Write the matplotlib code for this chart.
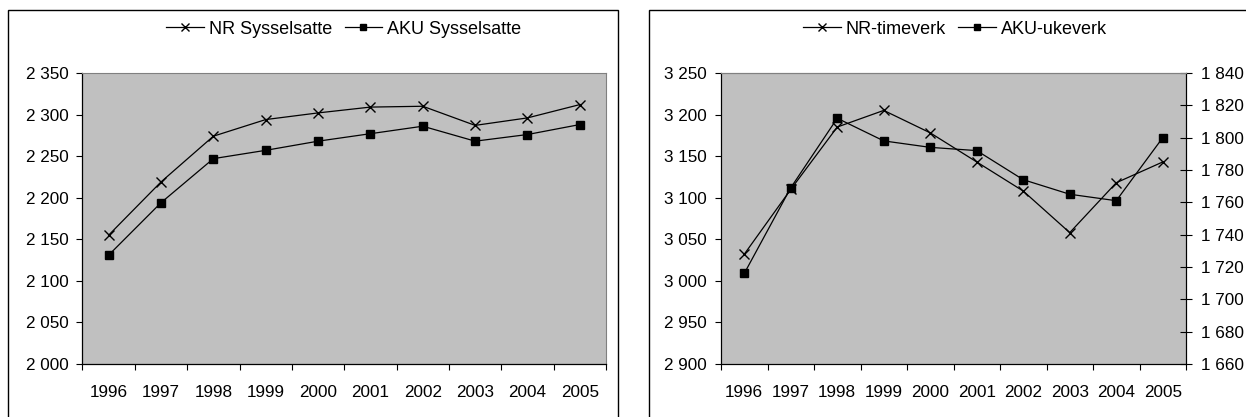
import matplotlib
matplotlib.use("Agg")
import matplotlib.pyplot as plt
from matplotlib.patches import Rectangle
from matplotlib.ticker import FuncFormatter, FixedLocator

plt.rcParams['font.family'] = ['Liberation Sans', 'DejaVu Sans']

years = ['1996', '1997', '1998', '1999', '2000', '2001', '2002', '2003', '2004', '2005']
nr_sysselsatte = [2155, 2219, 2274, 2294, 2302, 2309, 2310, 2287, 2296, 2312]
aku_sysselsatte = [2131, 2194, 2247, 2257, 2268, 2277, 2286, 2268, 2276, 2288]
nr_timeverk = [3032, 3110, 3185, 3205, 3178, 3143, 3108, 3058, 3118, 3143]
aku_ukeverk = [1716, 1769, 1812, 1798, 1794, 1792, 1774, 1765, 1761, 1800]

left_ticks = [2000, 2050, 2100, 2150, 2200, 2250, 2300, 2350]
right_left_ticks = [2900, 2950, 3000, 3050, 3100, 3150, 3200, 3250]
right_right_ticks = [1660, 1680, 1700, 1720, 1740, 1760, 1780, 1800, 1820, 1840]

W, H = 1246, 417
fig = plt.figure(figsize=(W / 100, H / 100), dpi=100)
FS = 12.3
LFS = 13
GRAY = '#C0C0C0'
EDGE = '#808080'

def fmt(v, pos=None):
    return f"{int(round(v)):,}".replace(',', ' ')

def px(x0, y0, x1, y1):
    return [x0 / W, 1 - y1 / H, (x1 - x0) / W, (y1 - y0) / H]

# outer chart boxes
fig.add_artist(Rectangle((8 / W, -0.1), (618 - 8) / W, 1 - 10 / H + 0.1,
                         transform=fig.transFigure, fill=False, lw=1.0, ec='black'))
fig.add_artist(Rectangle((649 / W, -0.1), 0.5, 1 - 10 / H + 0.1,
                         transform=fig.transFigure, fill=False, lw=1.0, ec='black'))

xs = list(range(len(years)))

def style_x(ax):
    ax.set_xlim(-0.5, len(years) - 0.5)
    ax.xaxis.set_major_locator(FixedLocator([i - 0.5 for i in range(len(years) + 1)]))
    ax.xaxis.set_minor_locator(FixedLocator(xs))
    ax.set_xticklabels([], minor=False)
    ax.set_xticklabels(years, minor=True, fontsize=FS)
    ax.tick_params(axis='x', which='major', direction='out', length=4, width=0.8)
    ax.tick_params(axis='x', which='minor', length=0, pad=15)

line_kw = dict(color='black', lw=0.9)
leg_kw = dict(loc='center', ncol=2, frameon=False, fontsize=LFS, handlelength=2.1,
              handletextpad=0.28, columnspacing=0.66, borderpad=0, markerscale=0.75)

# ---- left chart
ax1 = fig.add_axes(px(82.5, 73, 606, 364))
ax1.set_facecolor(GRAY)
l1, = ax1.plot(xs, nr_sysselsatte, marker='x', ms=7, mew=1.0, label='NR Sysselsatte', **line_kw)
l2, = ax1.plot(xs, aku_sysselsatte, marker='s', ms=5.5, label='AKU Sysselsatte', **line_kw)
ax1.set_ylim(2000, 2350)
ax1.yaxis.set_major_locator(FixedLocator(left_ticks))
ax1.yaxis.set_major_formatter(FuncFormatter(fmt))
ax1.tick_params(axis='y', direction='out', length=4, width=0.8, pad=6, labelsize=FS)
style_x(ax1)
for s in ['top', 'right']:
    ax1.spines[s].set_color(EDGE)
for s in ['left', 'bottom']:
    ax1.spines[s].set_color('black')
    ax1.spines[s].set_linewidth(0.9)

fig.legend(handles=[l1, l2], bbox_to_anchor=(344 / W, 1 - 29 / H), **leg_kw)

# ---- right chart
ax2 = fig.add_axes(px(721, 73, 1186, 364))
ax2.set_facecolor(GRAY)
r1, = ax2.plot(xs, nr_timeverk, marker='x', ms=7, mew=1.0, label='NR-timeverk', **line_kw)
ax2.set_ylim(2900, 3250)
ax2.yaxis.set_major_locator(FixedLocator(right_left_ticks))
ax2.yaxis.set_major_formatter(FuncFormatter(fmt))
ax2.tick_params(axis='y', direction='out', length=4, width=0.8, pad=6, labelsize=FS)
style_x(ax2)
ax3 = ax2.twinx()
r2, = ax3.plot(xs, aku_ukeverk, marker='s', ms=5.5, label='AKU-ukeverk', **line_kw)
ax3.set_ylim(1660, 1840)
ax3.yaxis.set_major_locator(FixedLocator(right_right_ticks))
ax3.yaxis.set_major_formatter(FuncFormatter(fmt))
ax3.tick_params(axis='y', direction='inout', length=8, width=0.8, pad=7, labelsize=FS)
for a in (ax2, ax3):
    a.spines['top'].set_color(EDGE)
    a.spines['left'].set_color('black')
    a.spines['bottom'].set_color('black')
ax3.spines['right'].set_color('black')
ax2.spines['right'].set_color('black')

fig.legend(handles=[r1, r2], bbox_to_anchor=(955 / W, 1 - 29 / H), **leg_kw)

fig.savefig('out.png', dpi=100)
